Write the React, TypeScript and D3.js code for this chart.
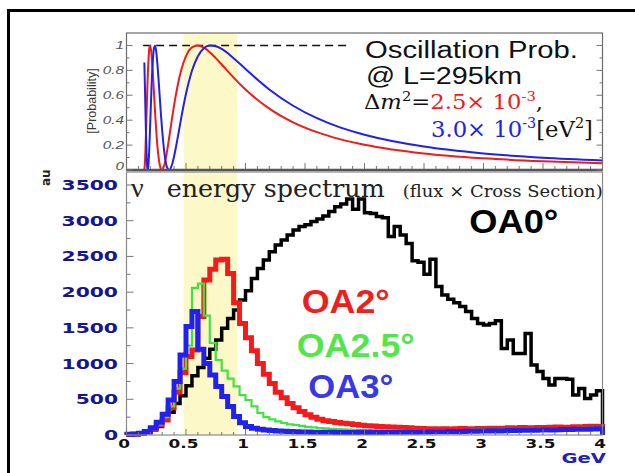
import React from "react";
import * as d3 from "d3";

// ---- data ----
const binWidth = 0.05; // GeV, 80 bins from 0 to 4

const oa0Counts = [
  5, 10, 20, 40, 70, 120, 205, 320, 440, 550,
  690, 830, 945, 1075, 1200, 1330, 1495, 1630, 1750, 1890,
  2020, 2190, 2330, 2450, 2565, 2660, 2730, 2800, 2870, 2920,
  2945, 2990, 3025, 3065, 3130, 3195, 3235, 3305, 3160, 3305,
  3110, 3100, 3060, 3040, 2780, 2920, 2800, 2680, 2440, 2420,
  2250, 2460, 2080, 1960, 1900, 1850, 1800, 1730, 1630, 1560,
  1540, 1560, 1600, 1210, 1330, 1140, 1140, 1420, 980, 890,
  790, 700, 790, 790, 780, 560, 650, 510, 560, 620,
];

const oa2Counts = [
  5, 10, 20, 40, 80, 140, 210, 380, 600, 870,
  1100, 1190, 1660, 2170, 2320, 2450, 2460, 2260, 1850, 1560,
  1360, 1180, 1000, 850, 720, 600, 520, 440, 380, 330,
  285, 250, 220, 200, 188, 175, 165, 156, 146, 138,
  130, 125, 120, 116, 112, 108, 104, 100, 96, 92,
  88, 86, 84, 88, 82, 86, 90, 84, 88, 92,
  90, 96, 92, 96, 100, 96, 104, 100, 102, 106,
  104, 108, 112, 108, 110, 116, 112, 120, 124, 118,
];

const oa25Counts = [
  10, 15, 25, 45, 85, 150, 250, 400, 650, 930,
  1250, 2060, 2120, 1670, 1290, 1050, 900, 790, 680, 560,
  490, 400, 310, 250, 220, 190, 170, 150, 140, 128,
  115, 106, 98, 92, 87, 83, 80, 76, 72, 70,
  68, 66, 64, 63, 62, 62, 61, 62, 60, 63,
  62, 65, 63, 66, 67, 66, 70, 69, 72, 74,
  73, 77, 76, 80, 81, 80, 85, 86, 85, 88,
  90, 89, 93, 95, 94, 98, 100, 99, 104, 106,
];

const oa3Counts = [
  10, 15, 25, 50, 100, 180, 290, 490, 750, 1120,
  1520, 1730, 1200, 1000, 840, 680, 540, 400, 260, 170,
  120, 95, 80, 70, 62, 56, 52, 48, 45, 43,
  41, 40, 38, 37, 38, 35, 36, 34, 35, 37,
  36, 37, 35, 38, 39, 38, 40, 41, 40, 42,
  43, 45, 44, 46, 48, 47, 50, 52, 51, 55,
  56, 58, 57, 61, 63, 62, 66, 68, 67, 70,
  72, 71, 75, 77, 76, 79, 81, 80, 84, 86,
];

// oscillation probability curves (energy in GeV, probability)
const probEnergy = [
  0.15, 0.155, 0.16, 0.165, 0.17, 0.175, 0.18, 0.185, 0.19, 0.195,
  0.2, 0.21, 0.22, 0.23, 0.24, 0.25, 0.26, 0.27, 0.28, 0.29,
  0.3, 0.32, 0.34, 0.36, 0.38, 0.4, 0.43, 0.46, 0.5, 0.55,
  0.6, 0.65, 0.7, 0.75, 0.8, 0.9, 1.0, 1.2, 1.4, 1.6,
  1.8, 2.0, 2.5, 3.0, 3.5, 4.0,
];
const probDm25 = [
  0.003, 0.064, 0.184, 0.338, 0.501, 0.656, 0.788, 0.89, 0.958, 0.994,
  0.998, 0.933, 0.799, 0.633, 0.466, 0.315, 0.19, 0.099, 0.038, 0.007,
  0.001, 0.048, 0.147, 0.269, 0.398, 0.521, 0.679, 0.803, 0.914, 0.984,
  1.0, 0.982, 0.946, 0.898, 0.847, 0.742, 0.647, 0.493, 0.383, 0.304,
  0.246, 0.203, 0.133, 0.094, 0.07, 0.054,
];
const probDm30 = [
  0.863, 0.663, 0.44, 0.241, 0.095, 0.015, 0.003, 0.049, 0.139, 0.258,
  0.392, 0.656, 0.859, 0.974, 0.998, 0.949, 0.849, 0.719, 0.577, 0.439,
  0.315, 0.126, 0.024, 0.001, 0.036, 0.111, 0.258, 0.419, 0.612, 0.797,
  0.914, 0.977, 0.999, 0.994, 0.972, 0.898, 0.811, 0.647, 0.516, 0.416,
  0.34, 0.283, 0.188, 0.133, 0.099, 0.077,
];

const bandRange = [0.48, 0.93]; // highlighted energy window
const probTicks = [0, 0.2, 0.4, 0.6, 0.8, 1];
const countTicks = [0, 500, 1000, 1500, 2000, 2500, 3000, 3500];
const energyTicks = [0, 0.5, 1, 1.5, 2, 2.5, 3, 3.5, 4];

const RED = "#f21a1a";
const GREEN = "#3fe43f";
const BLUE = "#2121ee";
const NAVY = "#15158f";

const sans = "'Liberation Sans', Arial, sans-serif";
const serif = "'DejaVu Serif', serif";
const times = "'Liberation Serif', serif";
const wide = "'DejaVu Sans', sans-serif";

export default function App() {
  const x = d3.scaleLinear().domain([0, 4]).range([126.5, 602.5]);
  const yP = d3.scaleLinear().domain([0, 1.1]).range([170, 33]);
  const yH = d3.scaleLinear().domain([0, 3682]).range([435, 172]);

  const histPath = (vals: number[]) => {
    const pts: [number, number][] = vals.map((v, i) => [i * binWidth, v]);
    pts.push([vals.length * binWidth, vals[vals.length - 1]]);
    const line = d3
      .line<[number, number]>()
      .x((d) => x(d[0]))
      .y((d) => yH(d[1]))
      .curve(d3.curveStepAfter);
    const body = line(pts) as string;
    return `M${x(0)},${yH(0)}L${body.slice(1)}L${x(vals.length * binWidth)},${yH(0)}`;
  };

  const probLine = (vals: number[]) =>
    d3
      .line<number>()
      .x((_, i) => x(probEnergy[i]))
      .y((d) => yP(d))
      .curve(d3.curveMonotoneX)(vals) as string;

  const xMinor = d3.range(0, 4.0001, 0.1);
  const pMinor = d3.range(0, 1.0001, 0.1);
  const hMinor = d3.range(0, 3501, 250);

  return (
    <div style={{ position: "absolute", left: 0, top: 0 }}>
      <svg width={635} height={473} style={{ display: "block", background: "#fff" }}>
        <defs>
          <clipPath id="topClip">
            <rect x={x(0)} y={33} width={x(4) - x(0)} height={137} />
          </clipPath>
          <clipPath id="botClip">
            <rect x={x(0) - 2} y={172} width={x(4) - x(0) + 6} height={265} />
          </clipPath>
        </defs>

        {/* outer frame */}
        <rect x={8.5} y={10.5} width={700} height={600} fill="none" stroke="#000" strokeWidth={3} />

        {/* highlighted band */}
        <rect x={x(bandRange[0])} y={33} width={x(bandRange[1]) - x(bandRange[0])} height={137} fill="#fcf8c8" />
        <rect x={x(bandRange[0])} y={172} width={x(bandRange[1]) - x(bandRange[0])} height={263} fill="#fcf8c8" />

        {/* ---- top panel ---- */}
        <line
          x1={x(0.14)}
          x2={x(1.88)}
          y1={yP(1)}
          y2={yP(1)}
          stroke="#111"
          strokeWidth={1.4}
          strokeDasharray="8 5"
        />
        <g clipPath="url(#topClip)" fill="none" strokeWidth={2}>
          <path d={probLine(probDm25)} stroke={RED} />
          <path d={probLine(probDm30)} stroke={BLUE} />
        </g>
        <rect x={x(0)} y={33} width={x(4) - x(0)} height={137} fill="none" stroke="#6a6a6a" strokeWidth={1.2} />
        <line x1={x(0)} x2={x(4)} y1={170} y2={170} stroke="#555" strokeWidth={2.4} />
        {xMinor.map((v, i) => (
          <line
            key={"tx" + i}
            x1={x(v)}
            x2={x(v)}
            y1={169}
            y2={i % 5 === 0 ? 163 : 166}
            stroke="#777"
            strokeWidth={1}
          />
        ))}
        {pMinor.map((v, i) => (
          <g key={"tp" + i}>
            <line x1={x(0)} x2={x(0) + (i % 2 === 0 ? 6 : 3)} y1={yP(v)} y2={yP(v)} stroke="#777" strokeWidth={1} />
            <line x1={x(4)} x2={x(4) - (i % 2 === 0 ? 6 : 3)} y1={yP(v)} y2={yP(v)} stroke="#777" strokeWidth={1} />
          </g>
        ))}
        {probTicks.map((v) => (
          <text
            key={"pl" + v}
            transform={`translate(124,${Math.min(yP(v), 166) + 3.8}) scale(1.45,1)`}
            textAnchor="end"
            fontFamily={sans}
            fontStyle="italic"
            fontSize={10.5}
            fill="#555"
          >
            {String(v)}
          </text>
        ))}
        <text
          transform="translate(95.5,101) rotate(-90)"
          textAnchor="middle"
          fontFamily={sans}
          fontSize={12.5}
          fill="#3a3a3a"
        >
          [Probability]
        </text>

        <text x={365} y={58} fontFamily={sans} fontSize={23.5} fill="#111" textLength={213} lengthAdjust="spacingAndGlyphs">
          Oscillation Prob.
        </text>
        <text x={366} y={84.3} fontFamily={sans} fontSize={23.5} fill="#111" textLength={156} lengthAdjust="spacingAndGlyphs">
          @ L=295km
        </text>
        <text x={364} y={109} fontFamily={serif} fontSize={20} fill="#111" textLength={179} lengthAdjust="spacingAndGlyphs">
          <tspan>Δ</tspan>
          <tspan fontStyle="italic">m</tspan>
          <tspan dy={-8} fontSize={13}>2</tspan>
          <tspan dy={8}>=</tspan>
          <tspan fill={RED}>2.5× 10</tspan>
          <tspan fill={RED} dy={-8} fontSize={13}>-3</tspan>
          <tspan dy={8}>,</tspan>
        </text>
        <text x={431} y={137} fontFamily={serif} fontSize={22} fill="#111" textLength={162} lengthAdjust="spacingAndGlyphs">
          <tspan fill={BLUE}>3.0× 10</tspan>
          <tspan fill={BLUE} dy={-9} fontSize={14}>-3</tspan>
          <tspan dy={9}>[eV</tspan>
          <tspan dy={-9} fontSize={14}>2</tspan>
          <tspan dy={9}>]</tspan>
        </text>

        {/* ---- bottom panel ---- */}
        <g clipPath="url(#botClip)" fill="none" strokeLinejoin="miter">
          <path d={histPath(oa0Counts)} stroke="#000" strokeWidth={3.5} />
          <path d={histPath(oa2Counts)} stroke={RED} strokeWidth={5} />
          <path d={histPath(oa25Counts)} stroke={GREEN} strokeWidth={2.2} />
          <path d={histPath(oa3Counts)} stroke={BLUE} strokeWidth={5} />
        </g>
        <rect x={x(0)} y={172} width={x(4) - x(0)} height={263} fill="none" stroke="#8a8a8a" strokeWidth={1.2} />
        {xMinor.map((v, i) => (
          <line
            key={"bx" + i}
            x1={x(v)}
            x2={x(v)}
            y1={435}
            y2={i % 5 === 0 ? 429 : 432}
            stroke="#777"
            strokeWidth={1}
          />
        ))}
        {hMinor.map((v, i) => (
          <line
            key={"by" + i}
            x1={x(0)}
            x2={x(0) + (i % 2 === 0 ? 7 : 4)}
            y1={yH(v)}
            y2={yH(v)}
            stroke="#777"
            strokeWidth={1}
          />
        ))}
        {countTicks.map((v) => (
          <text
            key={"yl" + v}
            transform={`translate(118,${yH(v) + 5}) scale(1.45,1)`}
            textAnchor="end"
            fontFamily={wide}
            fontWeight="bold"
            fontSize={14}
            fill={NAVY}
          >
            {String(v)}
          </text>
        ))}
        {energyTicks.map((v) => (
          <text
            key={"xl" + v}
            transform={`translate(${x(v) - 2.5},448) scale(1.35,1)`}
            textAnchor="middle"
            fontFamily={wide}
            fontWeight="bold"
            fontSize={12.5}
            fill="#111"
          >
            {String(v)}
          </text>
        ))}
        <text
          transform="translate(606,463) scale(1.45,1)"
          textAnchor="end"
          fontFamily={wide}
          fontWeight="bold"
          fontSize={13.5}
          fill="#2222bb"
        >
          GeV
        </text>
        <text
          transform="translate(50,186) rotate(-90)"
          fontFamily={wide}
          fontWeight="bold"
          fontSize={12}
          fill="#222"
        >
          au
        </text>

        <text x={131} y={197} fontFamily={times} fontSize={28} fill="#222">
          ν
        </text>
        <text x={166.7} y={197} fontFamily={serif} fontSize={25} fill="#222" textLength={218} lengthAdjust="spacingAndGlyphs">
          energy spectrum
        </text>
        <text x={402.7} y={197} fontFamily={serif} fontSize={17.5} fill="#222" textLength={200} lengthAdjust="spacingAndGlyphs">
          (flux ×  Cross Section)
        </text>

        <g fontFamily={sans} fontWeight="bold">
          <text x={469.3} y={232.7} fontSize={34} fill="#000" textLength={89} lengthAdjust="spacingAndGlyphs">
            OA0°
          </text>
          <text x={301.7} y={313.3} fontSize={33} fill="#f01e1e" textLength={88} lengthAdjust="spacingAndGlyphs">
            OA2°
          </text>
          <text x={296.7} y={356.7} fontSize={33} fill="#52e64a" textLength={118} lengthAdjust="spacingAndGlyphs">
            OA2.5°
          </text>
          <text x={308.3} y={398.3} fontSize={33} fill="#3838e6" textLength={85} lengthAdjust="spacingAndGlyphs">
            OA3°
          </text>
        </g>
      </svg>
    </div>
  );
}
